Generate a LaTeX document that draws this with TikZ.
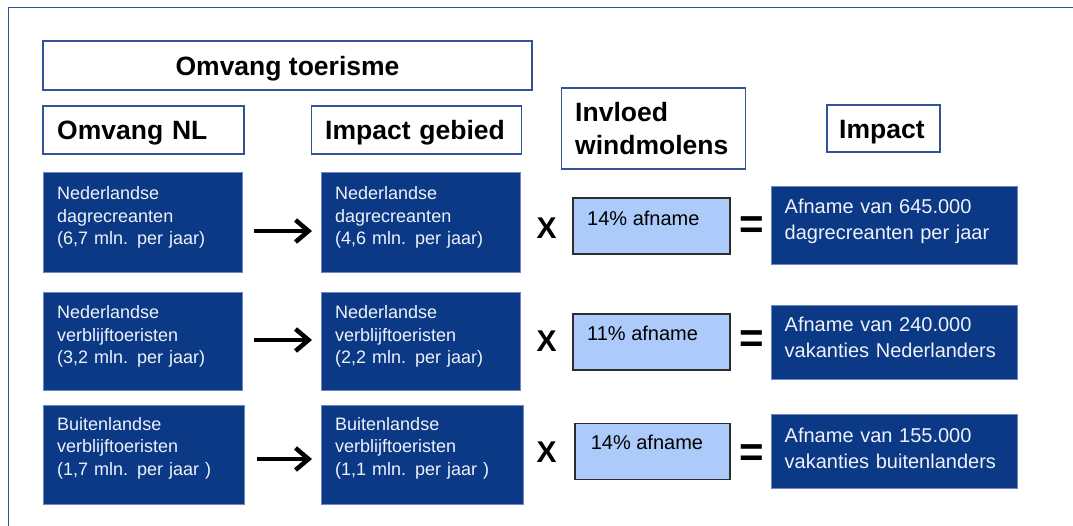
\documentclass[tikz,border=0pt]{standalone}
\usepackage{fontspec}
\setmainfont{Liberation Sans}
\usetikzlibrary{arrows.meta}
\definecolor{frameblue}{RGB}{47,85,151}
\definecolor{dkblue}{RGB}{12,57,134}
\definecolor{dkedge}{RGB}{110,135,190}
\definecolor{ltblue}{RGB}{172,202,250}
\definecolor{ltedge}{RGB}{45,45,45}
\definecolor{txtw}{RGB}{238,242,250}
\begin{document}
\begin{tikzpicture}[x=1pt,y=-1pt,
  box/.style={anchor=north west, inner sep=0pt, outer sep=0pt},
  hdr/.style={box, draw=frameblue, line width=1.5pt},
  dark/.style={box, fill=dkblue, draw=dkedge, line width=0.6pt},
  light/.style={box, fill=ltblue, draw=ltedge, line width=1.3pt},
  htxt/.style={anchor=base west, inner sep=0pt, font=\fontsize{26.5}{33}\selectfont\bfseries, text width=180pt, align=left},
  dtxt/.style={anchor=base west, inner sep=0pt, text=txtw, font=\fontsize{18}{22.5}\selectfont, text width=180pt, align=left},
  rtxt/.style={anchor=base west, inner sep=0pt, text=txtw, font=\fontsize{20}{26}\selectfont, text width=225pt, align=left},
  ltxt/.style={anchor=base west, inner sep=0pt, font=\fontsize{20}{24}\selectfont},
  optxt/.style={inner sep=0pt, font=\fontsize{30}{34}\selectfont\bfseries},
  eqtxt/.style={inner sep=0pt, font=\fontsize{42}{46}\selectfont\bfseries},
  arr/.style={line width=4.5pt, -{Straight Barb[length=13pt,width=22pt]}, shorten <=12pt, shorten >=9pt}
]
\useasboundingbox (0,0) rectangle (1073,525);
\fill[white] (0,0) rectangle (1073,525);
% outer frame
\coordinate (fBL) at (8.6,526);
\coordinate (fTL) at (8.6,7.6);
\coordinate (fTR) at (1074,7.6);
\draw[frameblue, line width=1.5pt] (fBL) -- (fTL) -- (fTR);

% header boxes
\node[hdr, minimum width=489pt, minimum height=49pt] (T) at (43,41) {};
\node[inner sep=0pt, anchor=base, font=\fontsize{26.5}{33}\selectfont\bfseries] (tT) at (287.5,75) {Omvang toerisme};
\node[hdr, minimum width=201pt, minimum height=48pt] (H1) at (43,106) {};
\node[htxt] (tH1) at (57,139.5) {Omvang NL};
\node[hdr, minimum width=210pt, minimum height=48pt] (H2) at (311.6,106) {};
\node[htxt] (tH2) at (325,139.5) {Impact gebied};
\node[hdr, minimum width=184pt, minimum height=81pt] (H3) at (561.4,88) {};
\node[htxt] (tH3) at (575,121) {Invloed\\windmolens};
\node[hdr, minimum width=113pt, minimum height=47pt] (H4) at (827,105) {};
\node[htxt] (tH4) at (839,138.5) {Impact};

% row 1
\node[dark, minimum width=199pt, minimum height=100pt] (A1) at (43,172) {};
\node[dtxt] (tA1) at (57,199.5) {Nederlandse\\dagrecreanten\\(6,7 mln. per jaar)};
\node[dark, minimum width=199pt, minimum height=100pt] (B1) at (321,172) {};
\node[dtxt] (tB1) at (335,199.5) {Nederlandse\\dagrecreanten\\(4,6 mln. per jaar)};
\draw[arr] (A1.east |- 0,231) -- (B1.west |- 0,231);
\node[optxt] (x1) at (546.5,228) {X};
\node[light, minimum width=157pt, minimum height=56pt] (L1) at (573,198) {};
\node[ltxt] (tL1) at (587,225.6) {14\% afname};
\node[eqtxt] (e1) at (751.5,228) {=};
\node[dark, minimum width=245.7pt, minimum height=78pt] (R1) at (771.3,186.5) {};
\node[rtxt] (tR1) at (784.5,213.5) {Afname van 645.000\\dagrecreanten per jaar};

% row 2
\node[dark, minimum width=199pt, minimum height=98pt] (A2) at (43,292.4) {};
\node[dtxt] (tA2) at (57,318.5) {Nederlandse\\verblijftoeristen\\(3,2 mln. per jaar)};
\node[dark, minimum width=199pt, minimum height=98pt] (B2) at (321,292.4) {};
\node[dtxt] (tB2) at (335,318.5) {Nederlandse\\verblijftoeristen\\(2,2 mln. per jaar)};
\draw[arr] (A2.east |- 0,340) -- (B2.west |- 0,340);
\node[optxt] (x2) at (546.5,341) {X};
\node[light, minimum width=157pt, minimum height=56pt] (L2) at (573,314) {};
\node[ltxt] (tL2) at (587,340) {11\% afname};
\node[eqtxt] (e2) at (751.5,342) {=};
\node[dark, minimum width=245.7pt, minimum height=74pt] (R2) at (771.3,305.2) {};
\node[rtxt] (tR2) at (784.5,331) {Afname van 240.000\\vakanties Nederlanders};

% row 3
\node[dark, minimum width=201.5pt, minimum height=99.2pt] (A3) at (43,404.8) {};
\node[dtxt] (tA3) at (57,430) {Buitenlandse\\verblijftoeristen\\(1,7 mln. per jaar )};
\node[dark, minimum width=202.4pt, minimum height=99.2pt] (B3) at (321,404.8) {};
\node[dtxt] (tB3) at (335,430) {Buitenlandse\\verblijftoeristen\\(1,1 mln. per jaar )};
\draw[arr] (A3.east |- 0,459) -- (B3.west |- 0,459);
\node[optxt] (x3) at (546.5,452) {X};
\node[light, minimum width=155pt, minimum height=56.4pt] (L3) at (575,423.3) {};
\node[ltxt] (tL3) at (590.6,449) {14\% afname};
\node[eqtxt] (e3) at (751.5,456) {=};
\node[dark, minimum width=245.7pt, minimum height=74pt] (R3) at (771.3,414.6) {};
\node[rtxt] (tR3) at (784.5,442) {Afname van 155.000\\vakanties buitenlanders};
\end{tikzpicture}
\end{document}
